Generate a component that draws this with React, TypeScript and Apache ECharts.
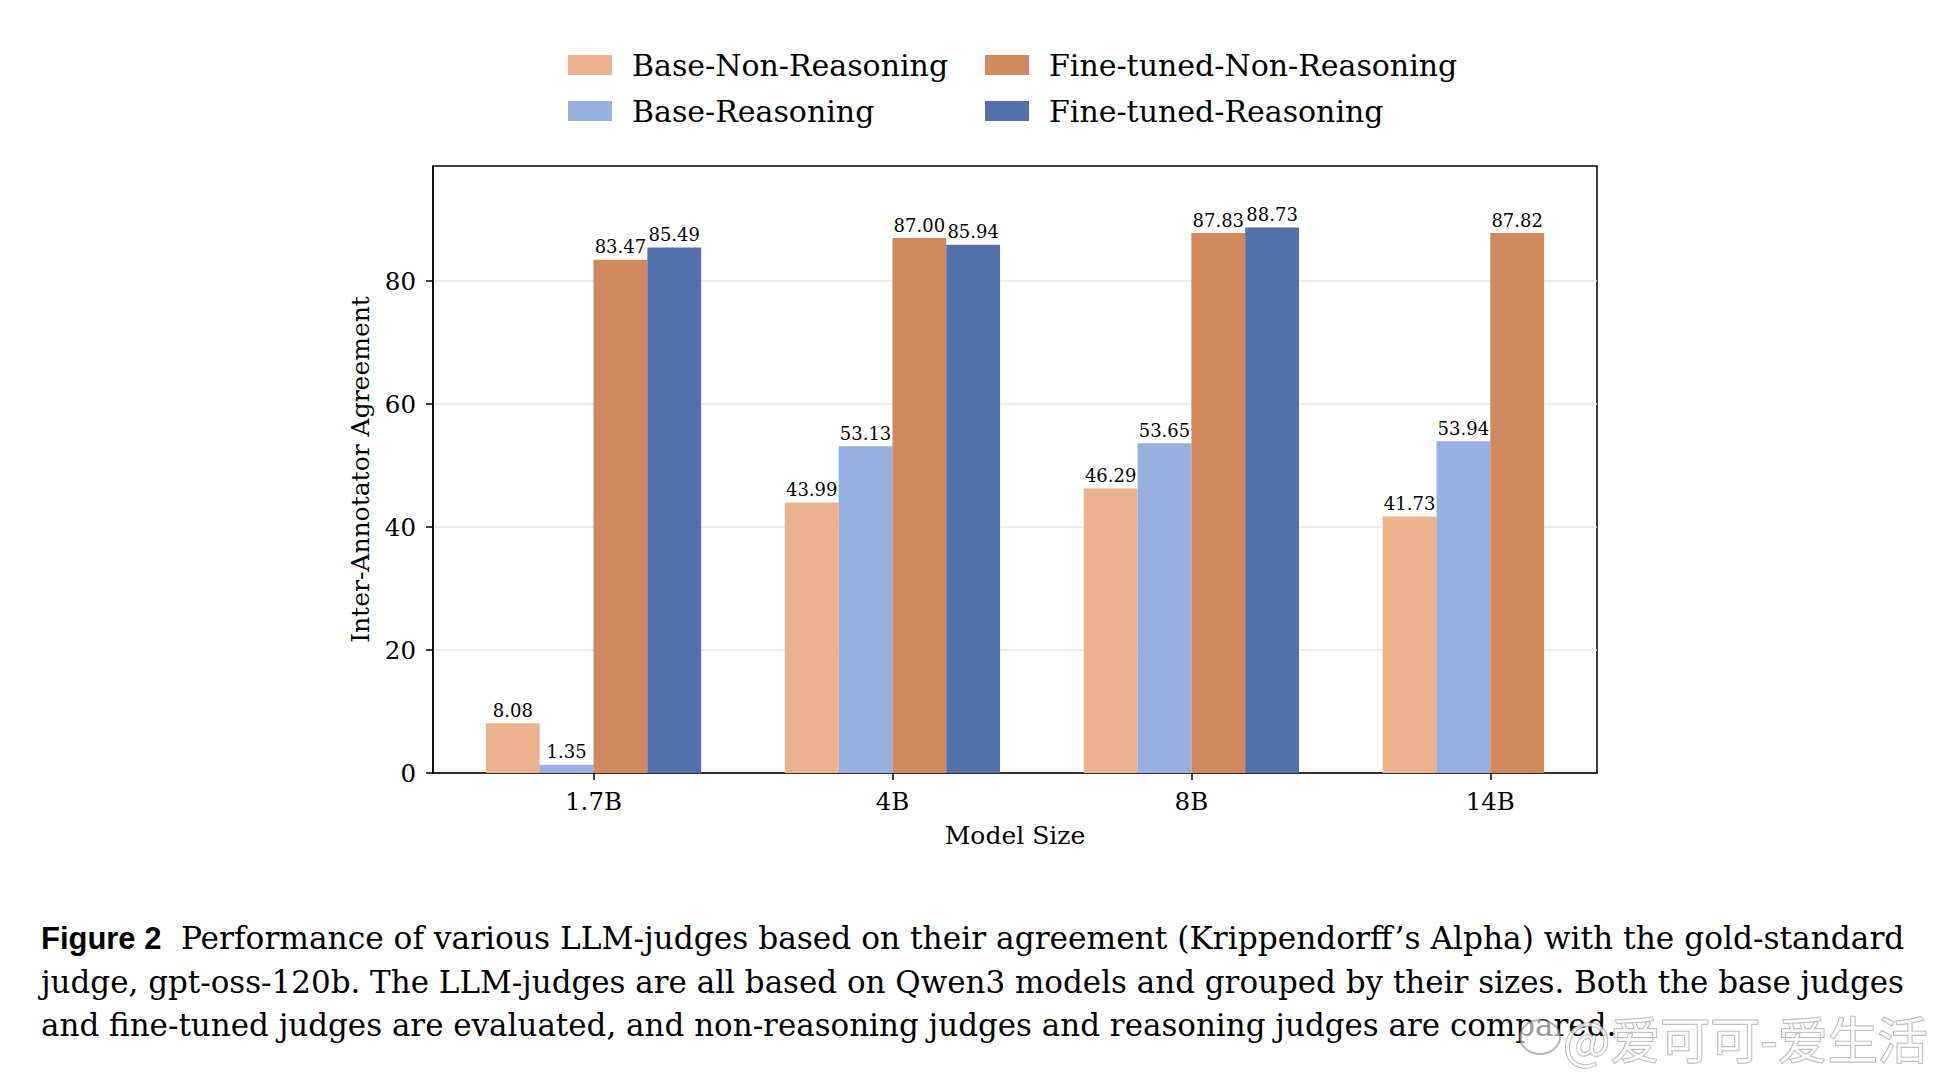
import React, { useEffect, useRef } from 'react';
import * as echarts from 'echarts';

const modelSizes = ['1.7B', '4B', '8B', '14B'];
const seriesNames = ['Base-Non-Reasoning', 'Base-Reasoning', 'Fine-tuned-Non-Reasoning', 'Fine-tuned-Reasoning'];
const baseNonReasoning = [8.08, 43.99, 46.29, 41.73];
const baseReasoning = [1.35, 53.13, 53.65, 53.94];
const fineTunedNonReasoning = [83.47, 87.0, 87.83, 87.82];
const fineTunedReasoning: (number | null)[] = [85.49, 85.94, 88.73, null];
const yTickValues = [0, 20, 40, 60, 80];
const xTickValues = [0, 1, 2, 3];
const seriesColors = ['#EAB38D', '#97B0DF', '#D1885C', '#5470AA'];

const captionLabel = 'Figure 2';
const captionLine1 = "Performance of various LLM-judges based on their agreement (Krippendorff\u2019s Alpha) with the gold-standard";
const captionLine2 = 'judge, gpt-oss-120b. The LLM-judges are all based on Qwen3 models and grouped by their sizes. Both the base judges';
const captionLine3 = 'and fine-tuned judges are evaluated, and non-reasoning judges and reasoning judges are compared.';
const watermark = '@爱可可-爱生活';

const SERIF = '"DejaVu Serif"';

function measure(text: string, font: string): number {
  const ctx = document.createElement('canvas').getContext('2d');
  if (!ctx) return text.length * 10;
  ctx.font = font;
  return ctx.measureText(text).width;
}

export default function App() {
  const ref = useRef<HTMLDivElement>(null);
  useEffect(() => {
    if (!ref.current) return;
    const chart = echarts.init(ref.current, undefined, { renderer: 'svg' });
    const allSeries = [baseNonReasoning, baseReasoning, fineTunedNonReasoning, fineTunedReasoning];
    const allValues = allSeries.flat().filter((v) => v != null) as number[];
    const yMax = Math.max(...allValues) + 10;

    // caption sizing (measured to emulate justified text)
    const baseSize = 29;
    const l3w = measure(captionLine3, `${baseSize}px ${SERIF}`);
    const capSize = (baseSize * 1576) / l3w;
    const l1w = measure(captionLine1, `${capSize}px ${SERIF}`);
    const l2w = measure(captionLine2, `${capSize}px ${SERIF}`);

    const legendText = { fontFamily: SERIF, fontSize: 30, color: '#000', lineHeight: 20, padding: [0, 0, 0, 15] };

    const option: any = {
      animation: false,
      backgroundColor: '#ffffff',
      textStyle: { fontFamily: SERIF },
      grid: {
        left: 433,
        right: 351,
        top: 166,
        bottom: 307,
        show: true,
        borderColor: '#000',
        borderWidth: 1.5,
        containLabel: false,
      },
      legend: [
        {
          data: [seriesNames[0], seriesNames[1]],
          orient: 'vertical',
          left: 568,
          top: 50,
          padding: 0,
          itemWidth: 44,
          itemHeight: 20,
          itemGap: 16,
          icon: 'rect',
          textStyle: legendText,
        },
        {
          data: [seriesNames[2], seriesNames[3]],
          orient: 'vertical',
          left: 985,
          top: 50,
          padding: 0,
          itemWidth: 44,
          itemHeight: 20,
          itemGap: 16,
          icon: 'rect',
          textStyle: legendText,
        },
      ],
      xAxis: {
        type: 'value',
        min: -0.537,
        max: 3.357,
        name: 'Model Size',
        nameLocation: 'middle',
        nameGap: 50,
        nameTextStyle: { fontFamily: SERIF, fontSize: 25, color: '#000' },
        axisLine: { show: true, onZero: false, lineStyle: { color: '#000', width: 1.5 } },
        axisTick: { show: true, customValues: xTickValues, length: 7, lineStyle: { color: '#000', width: 1.5 } },
        axisLabel: {
          customValues: xTickValues,
          formatter: (v: number) => modelSizes[Math.round(v)] ?? '',
          fontFamily: SERIF,
          fontSize: 24.5,
          color: '#000',
          margin: 16,
        },
        splitLine: { show: false },
      },
      yAxis: {
        type: 'value',
        min: 0,
        max: yMax,
        name: 'Inter-Annotator Agreement',
        nameLocation: 'middle',
        nameRotate: 90,
        nameGap: 60,
        nameTextStyle: { fontFamily: SERIF, fontSize: 25, color: '#000' },
        axisLine: { show: true, onZero: false, lineStyle: { color: '#000', width: 1.5 } },
        axisTick: { show: true, customValues: yTickValues, length: 7, lineStyle: { color: '#000', width: 1.5 } },
        axisLabel: {
          customValues: yTickValues,
          fontFamily: SERIF,
          fontSize: 24.5,
          color: '#000',
          margin: 17,
        },
        splitLine: { show: true, lineStyle: { color: '#e6e6e6', width: 1.5 } },
      },
      series: allSeries.map((vals, si) => ({
        name: seriesNames[si],
        type: 'bar',
        barWidth: '18%',
        barGap: '0%',
        itemStyle: { color: seriesColors[si] },
        data: vals.map((v, i) => (v == null ? null : [i, v])).filter((d) => d != null),
        label: {
          show: true,
          position: 'top',
          distance: 4,
          fontFamily: SERIF,
          fontSize: 18,
          color: '#000',
          formatter: (p: any) => Number(p.value[1]).toFixed(2),
        },
      })),
      graphic: [
        {
          type: 'text',
          x: 41,
          y: 938,
          style: { text: captionLabel, font: `bold ${capSize}px "Liberation Sans"`, fill: '#000', textVerticalAlign: 'middle', verticalAlign: 'middle' },
        },
        {
          type: 'text',
          x: 181,
          y: 938,
          scaleX: (1904 - 181) / l1w,
          style: { text: captionLine1, font: `${capSize}px ${SERIF}`, fill: '#000', textVerticalAlign: 'middle', verticalAlign: 'middle' },
        },
        {
          type: 'text',
          x: 41,
          y: 982,
          scaleX: (1904 - 41) / l2w,
          style: { text: captionLine2, font: `${capSize}px ${SERIF}`, fill: '#000', textVerticalAlign: 'middle', verticalAlign: 'middle' },
        },
        {
          type: 'text',
          x: 41,
          y: 1025,
          style: { text: captionLine3, font: `${capSize}px ${SERIF}`, fill: '#000', textVerticalAlign: 'middle', verticalAlign: 'middle' },
        },
        {
          type: 'ellipse',
          shape: { cx: 1540, cy: 1037, rx: 20, ry: 17 },
          style: { fill: 'rgba(255,255,255,0.6)', stroke: 'rgba(120,120,120,0.55)', lineWidth: 2 },
        },
        {
          type: 'text',
          x: 1563,
          y: 1037,
          style: {
            text: watermark,
            font: `50px "Noto Sans CJK SC"`,
            fill: 'rgba(255,255,255,0.75)',
            stroke: 'rgba(120,120,120,0.6)',
            lineWidth: 1.5,
            textVerticalAlign: 'middle',
            verticalAlign: 'middle',
          },
        },
      ],
    };
    chart.setOption(option);
    return () => chart.dispose();
  }, []);
  return <div ref={ref} style={{ position: 'absolute', left: 0, top: 0, width: 1948, height: 1080 }} />;
}
